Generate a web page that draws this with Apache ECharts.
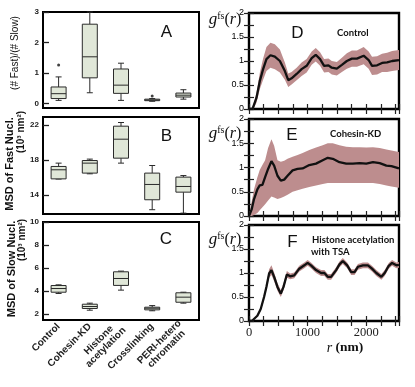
<!DOCTYPE html>
<html><head><meta charset="utf-8">
<script src="https://cdn.jsdelivr.net/npm/echarts@6/dist/echarts.min.js"></script>
<style>html,body{margin:0;padding:0;background:#fff}#c{width:415px;height:387px}</style>
</head><body><div id="c"></div>
<script>
// ---------- data ----------
const categories = ['Control', 'Cohesin-KD', 'Histone\nacetylation', 'Crosslinking', 'PERI-hetero\nchromatin'];
// box stats: [min, Q1, median, Q3, max]
const ratioBox = [[0.10,0.16,0.32,0.54,0.87],[0.35,0.84,1.53,2.60,3.00],[0.10,0.33,0.60,1.13,1.32],[0.07,0.09,0.11,0.14,0.16],[0.14,0.21,0.27,0.34,0.45]];
const ratioOutliers = [[0,1.26],[3,0.24]];
const fastBox = [[15.80,15.82,16.86,17.24,17.62],[16.40,16.48,17.62,17.92,18.08],[17.62,18.19,20.36,21.85,22.27],[12.29,13.43,15.18,16.48,17.35],[11.90,14.30,14.95,16.02,16.20]];
const slowBox = [[3.80,3.91,4.23,4.49,4.55],[2.35,2.50,2.67,2.87,2.96],[4.09,4.50,5.10,5.68,5.74],[2.30,2.38,2.52,2.61,2.75],[2.96,3.04,3.48,3.86,3.91]];
const ratioTicks = [0,1,2,3];
const fastTicks = [14,18,22];
const slowTicks = [2,4,6,8,10];

// g^fs(r) curves
const rD = [0,60,127,184,241,298,366,441,527,612,670,727,813,898,984,1070,1139,1213,1282,1356,1413,1499,1585,1670,1756,1842,1957,2042,2100,2186,2271,2357,2443,2560];
const gD = [0,0,0.23,0.58,0.83,1.04,1.12,1.09,1.00,0.79,0.60,0.64,0.73,0.83,0.90,1.06,1.13,1.04,0.90,0.91,0.86,0.84,0.92,1.00,1.05,1.05,1.11,1.02,0.90,0.91,0.96,0.97,1.00,1.02];
const errD = [0,0.03,0.10,0.17,0.22,0.25,0.26,0.26,0.24,0.18,0.14,0.13,0.13,0.14,0.14,0.14,0.14,0.14,0.14,0.14,0.14,0.14,0.15,0.16,0.17,0.17,0.18,0.18,0.19,0.19,0.19,0.20,0.21,0.21];

const rE = [0,46,86,143,183,229,275,326,383,429,486,543,601,658,744,829,915,1029,1144,1258,1344,1430,1544,1659,1773,1888,2002,2116,2231,2345,2431,2560];
const gE = [0,0.14,0.35,0.55,0.63,0.64,0.80,0.97,1.13,1.04,0.83,0.73,0.75,0.83,0.94,0.97,0.98,1.05,1.08,1.15,1.20,1.18,1.11,1.08,1.08,1.09,1.08,1.11,1.09,1.04,1.03,0.98];
const hiE = [0,0.30,0.55,0.80,0.95,1.05,1.15,1.40,1.58,1.45,1.15,1.12,1.14,1.18,1.22,1.26,1.30,1.36,1.41,1.46,1.50,1.50,1.46,1.43,1.42,1.42,1.41,1.42,1.40,1.37,1.35,1.32];
const loE = [0,0,0.02,0.06,0.12,0.18,0.24,0.32,0.40,0.38,0.35,0.37,0.40,0.44,0.50,0.53,0.56,0.60,0.63,0.66,0.68,0.68,0.68,0.68,0.68,0.68,0.68,0.68,0.66,0.63,0.61,0.58];

const rF = [0,57,143,200,257,297,343,383,429,486,543,589,646,703,772,858,944,1001,1058,1144,1230,1287,1344,1401,1487,1544,1601,1676,1744,1801,1859,1945,2030,2099,2173,2259,2316,2385,2442,2516,2560];
const gF = [0,0.01,0.11,0.25,0.50,0.71,0.99,1.06,0.92,0.71,0.57,0.71,0.97,0.93,0.95,1.09,1.16,1.21,1.16,1.06,1.00,1.00,0.92,0.92,1.06,1.18,1.25,1.16,1.02,1.02,1.13,1.16,1.16,1.09,1.00,0.92,1.00,1.15,1.21,1.16,1.17];
const errF = [0,0.01,0.02,0.03,0.05,0.06,0.09,0.10,0.09,0.08,0.07,0.07,0.07,0.06,0.06,0.06,0.06,0.06,0.06,0.06,0.06,0.06,0.06,0.06,0.06,0.06,0.06,0.06,0.06,0.06,0.06,0.06,0.06,0.06,0.06,0.06,0.06,0.06,0.06,0.06,0.06];

// ---------- build ----------
const SANS = 'Liberation Sans';
const SERIF = 'Liberation Serif';
const boxFill = '#e0e7d8';
const bandColor = '#bd8d8e';

function boxRender(params, api) {
  const i = api.value(0);
  const v = [1,2,3,4,5].map(k => api.value(k));
  const x = api.coord([i, v[2]])[0];
  const y = v.map(t => api.coord([i, t])[1]);
  const bw = 15, cap = 3;
  const st = {stroke: '#2a2a2a', lineWidth: 1};
  return {type: 'group', children: [
    {type: 'line', shape: {x1: x, y1: y[0], x2: x, y2: y[1]}, style: st},
    {type: 'line', shape: {x1: x, y1: y[3], x2: x, y2: y[4]}, style: st},
    {type: 'line', shape: {x1: x - cap, y1: y[0], x2: x + cap, y2: y[0]}, style: st},
    {type: 'line', shape: {x1: x - cap, y1: y[4], x2: x + cap, y2: y[4]}, style: st},
    {type: 'rect', shape: {x: x - bw / 2, y: y[3], width: bw, height: y[1] - y[3]}, style: {fill: boxFill, stroke: '#2a2a2a', lineWidth: 1}},
    {type: 'line', shape: {x1: x - bw / 2, y1: y[2], x2: x + bw / 2, y2: y[2]}, style: st}
  ]};
}

const gridsL = [{left: 43, top: 12, width: 156, height: 96}, {left: 43, top: 117, width: 156, height: 97}, {left: 43, top: 222, width: 156, height: 98}];
const gridsR = [{left: 249, top: 13, width: 150, height: 96}, {left: 249, top: 119, width: 150, height: 97}, {left: 249, top: 225, width: 150, height: 96}];
const grid = gridsL.map(g => Object.assign({show: true, borderColor: '#000', borderWidth: 2, backgroundColor: 'transparent'}, g))
  .concat(gridsR.map(g => Object.assign({show: true, borderColor: '#000', borderWidth: 2.4, backgroundColor: 'transparent'}, g)));

const catFont = {fontFamily: SANS, fontWeight: 'bold', fontSize: 10, color: '#222'};
const xAxis = [], yAxis = [], series = [];
const leftY = [
  {min: -0.15, max: 3, ticks: ratioTicks, box: ratioBox},
  {min: 11.8, max: 22.9, ticks: fastTicks, box: fastBox},
  {min: 1.5, max: 10, ticks: slowTicks, box: slowBox}
];
leftY.forEach((p, i) => {
  xAxis.push({type: 'category', gridIndex: i, data: categories, boundaryGap: true,
    axisLine: {show: false}, axisTick: {show: false},
    axisLabel: i === 2 ? Object.assign({show: true, rotate: 45, margin: 5, interval: 0,
      formatter: (v, k) => v.indexOf('\n') < 0 ? v : v.split('\n').map(s => '{m' + k + '|' + s + '}').join('\n'),
      rich: {m2: Object.assign({width: 53, align: 'center'}, catFont), m4: Object.assign({width: 58, align: 'center'}, catFont)}
    }, catFont) : {show: false},
    splitLine: {show: false}});
  yAxis.push({type: 'value', gridIndex: i, min: p.min, max: p.max,
    axisLine: {show: false},
    axisTick: {show: true, inside: true, length: 6, customValues: p.ticks, lineStyle: {color: '#222', width: 1.3}},
    axisLabel: {show: true, customValues: p.ticks, margin: 4, fontFamily: SANS, fontWeight: 'bold', fontSize: 8, color: '#222'},
    splitLine: {show: false}});
  series.push({type: 'custom', xAxisIndex: i, yAxisIndex: i, renderItem: boxRender,
    encode: {x: 0, y: [1,2,3,4,5]},
    data: p.box.map((b, k) => [k].concat(b)), animation: false, silent: true});
});
series.push({type: 'scatter', xAxisIndex: 0, yAxisIndex: 0, symbolSize: 3, itemStyle: {color: '#111'},
  data: ratioOutliers, animation: false, silent: true});

const curves = [
  {r: rD, g: gD, lo: gD.map((v, k) => v - errD[k]), hi: gD.map((v, k) => v + errD[k])},
  {r: rE, g: gE, lo: loE, hi: hiE},
  {r: rF, g: gF, lo: gF.map((v, k) => v - errF[k]), hi: gF.map((v, k) => v + errF[k])}
];
curves.forEach((c, j) => {
  const gi = 3 + j;
  xAxis.push({type: 'value', gridIndex: gi, min: 0, max: 2560, interval: 250, position: 'bottom',
    axisLine: {show: false},
    axisTick: {show: true, inside: true, length: 5, lineStyle: {color: '#222', width: 1.2}},
    axisLabel: {show: j === 2, margin: 5, fontFamily: SERIF, fontSize: 12.5, color: '#222',
      formatter: v => (v % 1000 === 0 ? String(v) : '')},
    splitLine: {show: false}});
  yAxis.push({type: 'value', gridIndex: gi, min: 0, max: 2, interval: 0.25, position: 'left',
    axisLine: {show: false},
    axisTick: {show: true, inside: true, length: 5, lineStyle: {color: '#222', width: 1.2}},
    axisLabel: {show: true, margin: 5, fontFamily: SANS, fontSize: 9, color: '#000',
      formatter: v => (Math.abs(v * 2 - Math.round(v * 2)) < 1e-6 ? String(v) : '')},
    splitLine: {show: false}});
});
curves.forEach((c, j) => {
  const gi = 3 + j;
  xAxis.push({type: 'value', gridIndex: gi, min: 0, max: 2560, interval: 250, position: 'top',
    axisLine: {show: false}, axisLabel: {show: false}, splitLine: {show: false},
    axisTick: {show: true, inside: true, length: 5, lineStyle: {color: '#222', width: 1.2}}});
  yAxis.push({type: 'value', gridIndex: gi, min: 0, max: 2, interval: 0.25, position: 'right',
    axisLine: {show: false}, axisLabel: {show: false}, splitLine: {show: false},
    axisTick: {show: true, inside: true, length: 5, lineStyle: {color: '#222', width: 1.2}}});
});
curves.forEach((c, j) => {
  const xi = 3 + j, yi = 3 + j;
  // shaded band as one polygon through the axes' scales
  series.push({type: 'custom', xAxisIndex: xi, yAxisIndex: yi, silent: true, animation: false, clip: true,
    encode: {x: 0, y: [1, 2]},
    data: c.r.map((r, k) => [r, c.lo[k], c.hi[k]]),
    renderItem: (params, api) => {
      if (params.dataIndex !== 0) return null;
      const up = c.r.map((r, k) => api.coord([r, c.hi[k]]));
      const dn = c.r.map((r, k) => api.coord([r, c.lo[k]])).reverse();
      return {type: 'polygon', shape: {points: up.concat(dn)}, style: {fill: bandColor, stroke: null}};
    }});
  series.push({type: 'line', xAxisIndex: xi, yAxisIndex: yi, symbol: 'none', silent: true, animation: false,
    lineStyle: {width: 2.3, color: '#111'}, data: c.r.map((r, k) => [r, c.g[k]]), z: 3});
});

function txt(x, y, text, font, opts) {
  return Object.assign({type: 'text', x: x, y: y, silent: true,
    style: Object.assign({text: text, font: font, fill: '#111', align: 'center', verticalAlign: 'middle'}, (opts && opts.style) || {})},
    (opts && opts.rot) ? {rotation: opts.rot} : {});
}
const R90 = Math.PI / 2;
const gRich = {
  g: {fontFamily: SERIF, fontStyle: 'italic', fontSize: 17, fill: '#111'},
  s: {fontFamily: SERIF, fontSize: 10, fill: '#111', verticalAlign: 'top', padding: [0, 0, 8, 0]},
  p: {fontFamily: SERIF, fontSize: 16, fill: '#111'},
  r: {fontFamily: SERIF, fontStyle: 'italic', fontSize: 16, fill: '#111'}
};
function gLabel(x, y) {
  return {type: 'text', x: x, y: y, silent: true,
    style: {text: '{g|g}{s|fs}{p|(}{r|r}{p|)}', rich: gRich, align: 'center', verticalAlign: 'middle'}};
}
const graphic = [
  txt(15.5, 53, '(# Fast)/(# Slow)', `10px "${SANS}"`, {rot: R90}),
  txt(10, 164, 'MSD of Fast Nucl.', `bold 11px "${SANS}"`, {rot: R90}),
  txt(21, 132, '(10³ nm²)', `bold 10px "${SANS}"`, {rot: R90}),
  txt(12, 269, 'MSD of Slow Nucl.', `bold 11px "${SANS}"`, {rot: R90}),
  txt(22, 240, '(10³ nm²)', `bold 10px "${SANS}"`, {rot: R90}),
  txt(166.5, 32, 'A', `17px "${SANS}"`),
  txt(166.5, 136, 'B', `17px "${SANS}"`),
  txt(166, 239, 'C', `17px "${SANS}"`),
  txt(297.5, 33, 'D', `17px "${SANS}"`),
  txt(292, 135.5, 'E', `17px "${SANS}"`),
  txt(292.5, 242.5, 'F', `17px "${SANS}"`),
  txt(337, 32.5, 'Control', 'bold 9.5px Lato', {style: {align: 'left'}}),
  txt(330, 134, 'Cohesin-KD', 'bold 9.5px Lato', {style: {align: 'left'}}),
  txt(312, 240, 'Histone acetylation', 'bold 9.5px Lato', {style: {align: 'left'}}),
  txt(311, 252, 'with TSA', 'bold 9.5px Lato', {style: {align: 'left'}}),
  gLabel(225, 20),
  gLabel(225, 134),
  gLabel(225, 240),
  {type: 'text', x: 345, y: 348, silent: true,
    style: {text: '{i|r} {b|(nm)}', align: 'center', verticalAlign: 'middle',
      rich: {i: {fontFamily: SERIF, fontStyle: 'italic', fontSize: 14, fill: '#111'},
             b: {fontFamily: SERIF, fontWeight: 'bold', fontSize: 13.5, fill: '#111'}}}}
];

const chart = echarts.init(document.getElementById('c'), null, {renderer: 'canvas'});
chart.setOption({animation: false, backgroundColor: '#fff', grid, xAxis, yAxis, series, graphic});
</script>
</body></html>
